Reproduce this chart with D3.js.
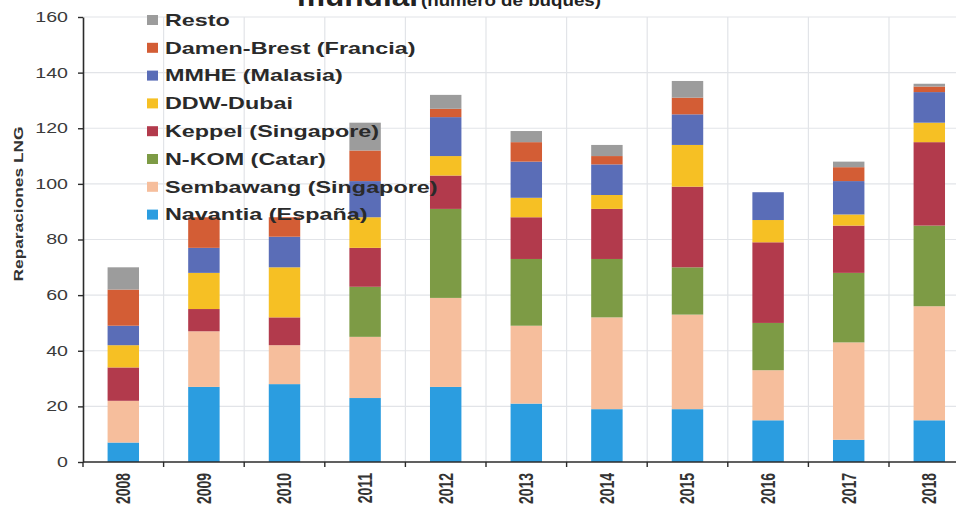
<!DOCTYPE html>
<html>
<head>
<meta charset="utf-8">
<script src="https://cdn.jsdelivr.net/npm/d3@7"></script>
<style>
  body { margin: 0; background: #fff; }
  svg { display: block; font-family: "Liberation Sans", Arial, sans-serif; }
</style>
</head>
<body>
<script>
// ! Data (numero de buques)
const years = ["2008","2009","2010","2011","2012","2013","2014","2015","2016","2017","2018"];
const navantia  = [7, 27, 28, 23, 27, 21, 19, 19, 15, 8, 15];
const sembawang = [15, 20, 14, 22, 32, 28, 33, 34, 18, 35, 41];
const nkom      = [0, 0, 0, 18, 32, 24, 21, 17, 17, 25, 29];
const keppel    = [12, 8, 10, 14, 12, 15, 18, 29, 29, 17, 30];
const ddw       = [8, 13, 18, 11, 7, 7, 5, 15, 8, 4, 7];
const mmhe      = [7, 9, 11, 13, 14, 13, 11, 11, 10, 12, 11];
const damen     = [13, 11, 7, 11, 3, 7, 3, 6, 0, 5, 2];
const resto     = [8, 0, 0, 10, 5, 4, 4, 6, 0, 2, 1];
const yTicks = [0, 20, 40, 60, 80, 100, 120, 140, 160];

// ! Series, bottom to top
const series = [
  { key: "navantia",  label: "Navantia (España)",     values: navantia,  color: "#2b9de0" },
  { key: "sembawang", label: "Sembawang (Singapore)", values: sembawang, color: "#f6be9c" },
  { key: "nkom",      label: "N-KOM (Catar)",         values: nkom,      color: "#7d9b45" },
  { key: "keppel",    label: "Keppel (Singapore)",    values: keppel,    color: "#b23a4c" },
  { key: "ddw",       label: "DDW-Dubai",             values: ddw,       color: "#f6c024" },
  { key: "mmhe",      label: "MMHE (Malasia)",        values: mmhe,      color: "#5a6db7" },
  { key: "damen",     label: "Damen-Brest (Francia)", values: damen,     color: "#d35d35" },
  { key: "resto",     label: "Resto",                 values: resto,     color: "#9c9c9c" }
];

const width = 956;
const height = 516;
const stretch = 1.4;

const svg = d3.select("body").append("svg")
  .attr("width", width)
  .attr("height", height);

// ! Scales
const x0 = 83, bandStep = 80.6;
const xScale = d3.scaleBand()
  .domain(years)
  .range([x0, x0 + bandStep * years.length])
  .padding(0);
const yScale = d3.scaleLinear().domain([0, 160]).range([462, 17]);

// ! Table for the stack
const table = years.map((y, i) => {
  const row = { year: y };
  series.forEach((s) => (row[s.key] = s.values[i]));
  return row;
});
const stacked = d3.stack().keys(series.map((s) => s.key))(table);

// ! Grid
const grid = svg.append("g").attr("class", "grid");
grid.selectAll("line.h")
  .data(yTicks.filter((d) => d > 0))
  .enter().append("line")
  .attr("x1", x0).attr("x2", width)
  .attr("y1", (d) => yScale(d)).attr("y2", (d) => yScale(d))
  .attr("stroke", "#e2e4e8").attr("stroke-width", 1.2);
grid.selectAll("line.v")
  .data(years.slice(1))
  .enter().append("line")
  .attr("x1", (d) => xScale(d)).attr("x2", (d) => xScale(d))
  .attr("y1", yScale(160)).attr("y2", yScale(0))
  .attr("stroke", "#e2e4e8").attr("stroke-width", 1.2);

// ! Bars
const barW = bandStep * 0.39;
svg.append("g").selectAll("g")
  .data(stacked)
  .enter().append("g")
  .attr("fill", (d, i) => series[i].color)
  .selectAll("rect")
  .data((d) => d)
  .enter().append("rect")
  .attr("x", (d) => xScale(d.data.year) + (bandStep - barW) / 2)
  .attr("y", (d) => yScale(d[1]))
  .attr("width", barW)
  .attr("height", (d) => yScale(d[0]) - yScale(d[1]));

// ! Y axis
const yAxisG = svg.append("g")
  .attr("transform", `translate(${x0},0)`)
  .call(d3.axisLeft(yScale).tickValues(yTicks).tickSize(5).tickSizeOuter(0));
yAxisG.select(".domain").attr("stroke", "#2b2b2b").attr("stroke-width", 1.6);
yAxisG.selectAll(".tick line").attr("stroke", "#2b2b2b").attr("stroke-width", 1.4);
yAxisG.selectAll(".tick text")
  .attr("x", 0)
  .attr("transform", `translate(-15,0) scale(${stretch},1)`)
  .style("font-size", "14px")
  .style("font-family", "'Liberation Sans', Arial, sans-serif")
  .attr("fill", "#3a3a3a");

// ! X axis (ticks at category edges)
const xAxisG = svg.append("g");
xAxisG.append("line")
  .attr("x1", x0).attr("x2", width)
  .attr("y1", yScale(0)).attr("y2", yScale(0))
  .attr("stroke", "#2b2b2b").attr("stroke-width", 1.6);
xAxisG.selectAll("line.tk")
  .data(years)
  .enter().append("line")
  .attr("x1", (d) => xScale(d)).attr("x2", (d) => xScale(d))
  .attr("y1", yScale(0)).attr("y2", yScale(0) + 5)
  .attr("stroke", "#2b2b2b").attr("stroke-width", 1.4);
xAxisG.selectAll("text")
  .data(years)
  .enter().append("text")
  .attr("transform", (d) => `translate(${xScale(d) + bandStep / 2},473) rotate(-90) scale(1,${stretch})`)
  .attr("text-anchor", "end")
  .attr("dy", "0.35em")
  .style("font-size", "14px")
  .style("font-weight", "bold")
  .attr("fill", "#333")
  .text((d) => d);

// ! Y axis label
svg.append("text")
  .attr("transform", "translate(18,204) rotate(-90)")
  .attr("text-anchor", "middle")
  .attr("dy", "0.35em")
  .attr("textLength", 155)
  .attr("lengthAdjust", "spacingAndGlyphs")
  .style("font-size", "13px")
  .style("font-weight", "bold")
  .attr("fill", "#333")
  .text("Reparaciones LNG");

// ! Title (cut at top edge, as in the source)
svg.append("text")
  .attr("x", 297).attr("y", 6)
  .attr("textLength", 121)
  .attr("lengthAdjust", "spacingAndGlyphs")
  .style("font-size", "28px")
  .style("font-weight", "bold")
  .attr("fill", "#222")
  .text("mundial");
svg.append("text")
  .attr("x", 421).attr("y", 6)
  .attr("textLength", 180)
  .attr("lengthAdjust", "spacingAndGlyphs")
  .style("font-size", "16px")
  .style("font-weight", "bold")
  .attr("fill", "#222")
  .text("(número de buques)");

// ! Legend (reverse order, Resto on top)
const legend = svg.append("g").attr("class", "legend");
const legendItems = legend.selectAll("g")
  .data(series.slice().reverse())
  .enter().append("g")
  .attr("transform", (d, i) => `translate(147,${20 + i * 27.8})`);
legendItems.append("rect")
  .attr("x", 0).attr("y", -5)
  .attr("width", 11).attr("height", 10)
  .attr("fill", (d) => d.color);
legendItems.append("text")
  .attr("transform", "translate(18,0) scale(1.46,1)")
  .attr("dy", "0.36em")
  .style("font-size", "16px")
  .style("font-weight", "bold")
  .attr("fill", "#2a2a2a")
  .text((d) => d.label);
</script>
</body>
</html>
